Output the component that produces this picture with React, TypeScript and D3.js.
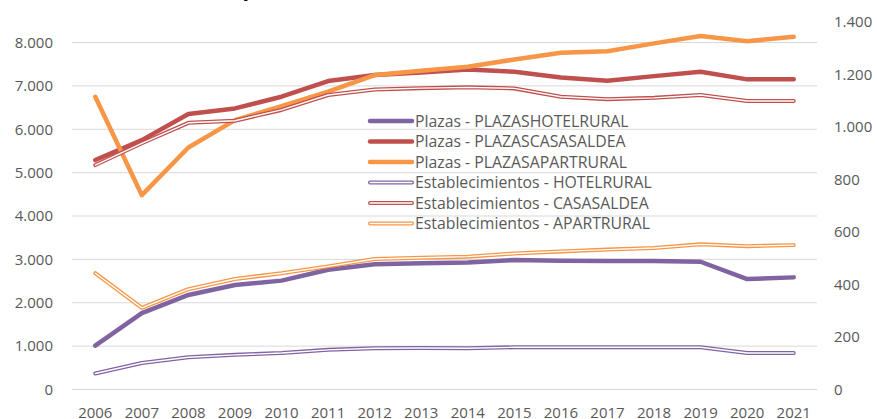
import React from 'react';
import * as d3 from 'd3';

const years = ['2006', '2007', '2008', '2009', '2010', '2011', '2012', '2013', '2014', '2015', '2016', '2017', '2018', '2019', '2020', '2021'];

// Plazas (eje izquierdo)
const plazasHotel = [1010, 1760, 2180, 2410, 2510, 2760, 2890, 2910, 2930, 2985, 2970, 2965, 2965, 2945, 2545, 2585];
const plazasCasas = [5290, 5750, 6350, 6480, 6750, 7110, 7250, 7310, 7380, 7325, 7195, 7120, 7225, 7325, 7150, 7150];
const plazasApart = [6750, 4480, 5580, 6210, 6535, 6865, 7250, 7350, 7440, 7610, 7765, 7800, 7980, 8150, 8030, 8130];

// Establecimientos (eje derecho)
const estHotel = [61, 101, 123, 132, 139, 151, 157, 158, 157, 161, 161, 161, 161, 161, 139, 139];
const estCasas = [855, 938, 1016, 1024, 1065, 1122, 1143, 1148, 1151, 1147, 1115, 1106, 1111, 1122, 1099, 1099];
const estApart = [443, 311, 382, 421, 443, 469, 497, 502, 506, 518, 526, 533, 539, 553, 546, 550];

const leftTicks = [0, 1000, 2000, 3000, 4000, 5000, 6000, 7000, 8000];
const rightTicks = [0, 200, 400, 600, 800, 1000, 1200, 1400];

const seriesDefs = [
  { name: 'Plazas - PLAZASHOTELRURAL', values: plazasHotel, color: '#8064A2', axis: 'left', hollow: false },
  { name: 'Plazas - PLAZASCASASALDEA', values: plazasCasas, color: '#C0504D', axis: 'left', hollow: false },
  { name: 'Plazas - PLAZASAPARTRURAL', values: plazasApart, color: '#F79646', axis: 'left', hollow: false },
  { name: 'Establecimientos - HOTELRURAL', values: estHotel, color: '#8064A2', axis: 'right', hollow: true },
  { name: 'Establecimientos - CASASALDEA', values: estCasas, color: '#C0504D', axis: 'right', hollow: true },
  { name: 'Establecimientos - APARTRURAL', values: estApart, color: '#F79646', axis: 'right', hollow: true },
];

const W = 877;
const H = 419;
const plot = { left: 72, right: 817, bottom: 389.5 };
const FONT = '"Open Sans", sans-serif';
const TEXT = '#595959';

const fmt = d3.formatLocale({ decimal: ',', thousands: '.', grouping: [3], currency: ['', ''] }).format(',');

export default function App() {
  const x = d3.scaleBand<string>().domain(years).range([plot.left, plot.right]);
  const cx = (y: string) => (x(y) ?? 0) + x.bandwidth() / 2;
  const yL = d3.scaleLinear().domain([0, 8000]).range([plot.bottom, 42.5]);
  const yR = d3.scaleLinear().domain([0, 1400]).range([plot.bottom, 22]);

  const lineFor = (axis: string) =>
    d3
      .line<number>()
      .x((_, i) => cx(years[i]))
      .y((d) => (axis === 'left' ? yL(d) : yR(d)));

  const legendX = 370;
  const legendY = 121;
  const legendStep = 20.5;

  return (
    <svg width={W} height={H} style={{ position: 'absolute', left: 0, top: 0, background: '#fff' }} fontFamily={FONT}>
      {/* título, casi todo fuera del recorte */}
      <text x={186} y={-3} fontSize={17} fontWeight="bold" fill="#000">
        Plazas y Establecimientos
      </text>

      {leftTicks.map((t) => (
        <line key={t} x1={plot.left} x2={plot.right} y1={yL(t)} y2={yL(t)} stroke="#D9D9D9" strokeWidth={1} />
      ))}

      {leftTicks.map((t) => (
        <text key={'l' + t} x={53} y={yL(t)} dy="0.35em" textAnchor="end" fontSize={15} fill={TEXT}>
          {fmt(t)}
        </text>
      ))}
      {rightTicks.map((t) => (
        <text key={'r' + t} x={834} y={yR(t)} dy="0.35em" textAnchor="start" fontSize={15} fill={TEXT}>
          {fmt(t)}
        </text>
      ))}
      {years.map((yr) => (
        <text key={yr} x={cx(yr)} y={418} textAnchor="middle" fontSize={15} fill={TEXT}>
          {yr}
        </text>
      ))}

      {seriesDefs.map((s) => {
        const d = lineFor(s.axis)(s.values) ?? '';
        return s.hollow ? (
          <g key={s.name}>
            <path d={d} fill="none" stroke={s.color} strokeWidth={4} strokeLinejoin="round" strokeLinecap="round" />
            <path d={d} fill="none" stroke="#fff" strokeWidth={1.4} strokeLinejoin="round" strokeLinecap="round" />
          </g>
        ) : (
          <path key={s.name} d={d} fill="none" stroke={s.color} strokeWidth={4.5} strokeLinejoin="round" strokeLinecap="round" />
        );
      })}

      {seriesDefs.map((s, i) => {
        const ly = legendY + i * legendStep;
        return (
          <g key={'lg' + s.name}>
            <line x1={legendX} x2={legendX + 42} y1={ly} y2={ly} stroke={s.color} strokeWidth={s.hollow ? 4 : 4.5} strokeLinecap="round" />
            {s.hollow && <line x1={legendX} x2={legendX + 42} y1={ly} y2={ly} stroke="#fff" strokeWidth={1.4} strokeLinecap="round" />}
            <text x={legendX + 45} y={ly} dy="0.35em" fontSize={15.8} fill={TEXT}>
              {s.name}
            </text>
          </g>
        );
      })}
    </svg>
  );
}
